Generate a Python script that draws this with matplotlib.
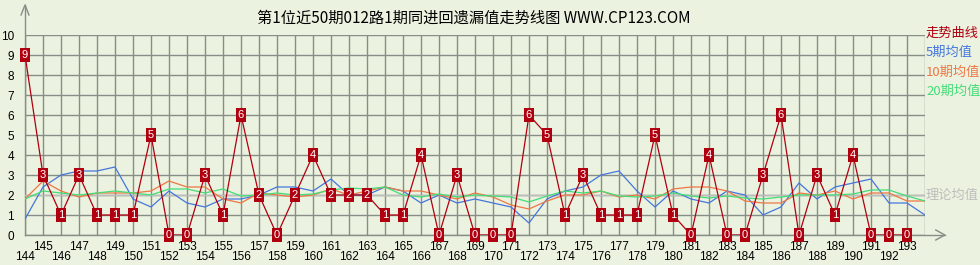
import numpy as np
import matplotlib
matplotlib.use("Agg")
import matplotlib.pyplot as plt

# Issues shown on the x axis
issues = list(range(144, 194))

# Miss values (the red trend line)
miss = [9, 3, 1, 3, 1, 1, 1, 5, 0, 0,
        3, 1, 6, 2, 0, 2, 4, 2, 2, 2,
        1, 1, 4, 0, 3, 0, 0, 0, 6, 5,
        1, 3, 1, 1, 1, 5, 1, 0, 4, 0,
        0, 3, 6, 0, 3, 1, 4, 0, 0, 0]

# Average lines run one step further (144..194)
avg_issues = list(range(144, 195))
avg5 = [0.8, 2.4, 3.0, 3.2, 3.2, 3.4, 1.8, 1.4, 2.2, 1.6,
        1.4, 1.8, 1.8, 2.0, 2.4, 2.4, 2.2, 2.8, 2.0, 2.0,
        2.4, 2.2, 1.6, 2.0, 1.6, 1.8, 1.6, 1.4, 0.6, 1.8,
        2.2, 2.4, 3.0, 3.2, 2.2, 1.4, 2.2, 1.8, 1.6, 2.2,
        2.0, 1.0, 1.4, 2.6, 1.8, 2.4, 2.6, 2.8, 1.6, 1.6,
        1.0]
avg10 = [1.8, 2.7, 2.2, 1.9, 2.1, 2.1, 2.1, 2.2, 2.7, 2.4,
         2.4, 1.8, 1.6, 2.1, 2.0, 1.9, 2.0, 2.3, 2.0, 2.2,
         2.4, 2.2, 2.2, 2.0, 1.8, 2.1, 1.9, 1.5, 1.3, 1.7,
         2.0, 2.0, 2.2, 1.9, 2.0, 1.8, 2.3, 2.4, 2.4, 2.2,
         1.7, 1.6, 1.6, 2.1, 2.0, 2.2, 1.8, 2.1, 2.1, 1.7,
         1.7]
avg20 = [1.8, 2.2, 2.1, 2.0, 2.1, 2.2, 2.1, 2.0, 2.3, 2.3,
         2.1, 2.3, 1.95, 2.0, 2.1, 2.0, 2.05, 2.25, 2.35, 2.3,
         2.4, 2.0, 1.9, 2.05, 1.9, 2.0, 1.95, 1.9, 1.65, 1.95,
         2.2, 2.1, 2.2, 1.95, 1.9, 1.95, 2.1, 1.95, 1.85, 1.95,
         1.85, 1.8, 1.9, 2.0, 2.0, 2.0, 2.05, 2.25, 2.25, 1.95,
         1.7]
theory = 2

title = "第1位近50期012路1期同进回遗漏值走势线图 WWW.CP123.COM"
legend_labels = ["走势曲线", "5期均值", "10期均值", "20期均值"]
theory_label = "理论均值"

# colours
BG = "#EBF2DF"
GRID = "#878D87"
RED = "#B00010"
BLUE = "#4477DD"
ORANGE = "#EE7744"
GREEN = "#44DD77"
LIGHT = "#BDBDBD"

W, H = 980, 265
CJK = ["Noto Sans CJK SC", "DejaVu Sans"]


def px(x, y):
    # pixel (from top-left) to figure fraction
    return x / W, 1 - y / H


def draw_chart():
    fig = plt.figure(figsize=(W / 100, H / 100), dpi=100, facecolor=BG)
    left, top = px(25, 35)
    _, bottom = px(0, 235)
    ax = fig.add_axes([left, bottom, 900 / W, top - bottom])
    ax.set_facecolor(BG)
    ax.set_xlim(144, 194)
    ax.set_ylim(0, 10)
    for s in ax.spines.values():
        s.set_visible(False)

    ax.set_xticks(np.arange(144, 195))
    ax.set_yticks(range(11))
    ax.grid(True, color=GRID, lw=1.0)
    ax.set_axisbelow(True)
    ax.tick_params(length=0, labelbottom=False, labelsize=8.5, pad=8)
    ax.set_yticklabels([str(i) for i in range(11)], family="Liberation Sans")

    # x labels in two rows
    for i in issues:
        y = -0.62 if i % 2 else -1.08
        ax.text(i, y, str(i), ha="center", va="center", fontsize=8.5,
                family="Liberation Sans", clip_on=False)

    # axis lines with open arrow heads
    ax.plot([144, 144], [0, 11.5], color=GRID, lw=1, clip_on=False)
    ax.plot([143.78, 144, 144.22], [11.0, 11.5, 11.0], color=GRID, lw=1, clip_on=False)
    ax.plot([144, 195.1], [0, 0], color=GRID, lw=1, clip_on=False)
    ax.plot([194.6, 195.1, 194.6], [0.25, 0, -0.25], color=GRID, lw=1, clip_on=False)

    ax.plot([144, 194], [theory, theory], color=LIGHT, lw=1)
    ax.plot(avg_issues, avg5, color=BLUE, lw=0.9)
    ax.plot(avg_issues, avg10, color=ORANGE, lw=0.9)
    ax.plot(avg_issues, avg20, color=GREEN, lw=0.9)
    ax.plot(issues, miss, color=RED, lw=0.9)

    for x, v in zip(issues, miss):
        ax.text(x, v, str(v), ha="center", va="center", color="white",
                fontsize=8, family="Liberation Sans", clip_on=False,
                bbox=dict(boxstyle="square,pad=0.18", fc=RED, ec="none"))

    fig.text(*px(474, 18), title, ha="center", va="center",
             fontsize=11, family=CJK)

    colors = [RED, BLUE, ORANGE, GREEN]
    for k, (lab, c) in enumerate(zip(legend_labels, colors)):
        fig.text(*px(926, 33 + k * 19.5), lab, ha="left", va="center",
                 fontsize=9.5, color=c, family=CJK)
    fig.text(*px(926, 195), theory_label, ha="left", va="center",
             fontsize=9.5, color=LIGHT, family=CJK)

    fig.savefig("out.png", dpi=100, facecolor=BG)


if __name__ == "__main__":
    draw_chart()
